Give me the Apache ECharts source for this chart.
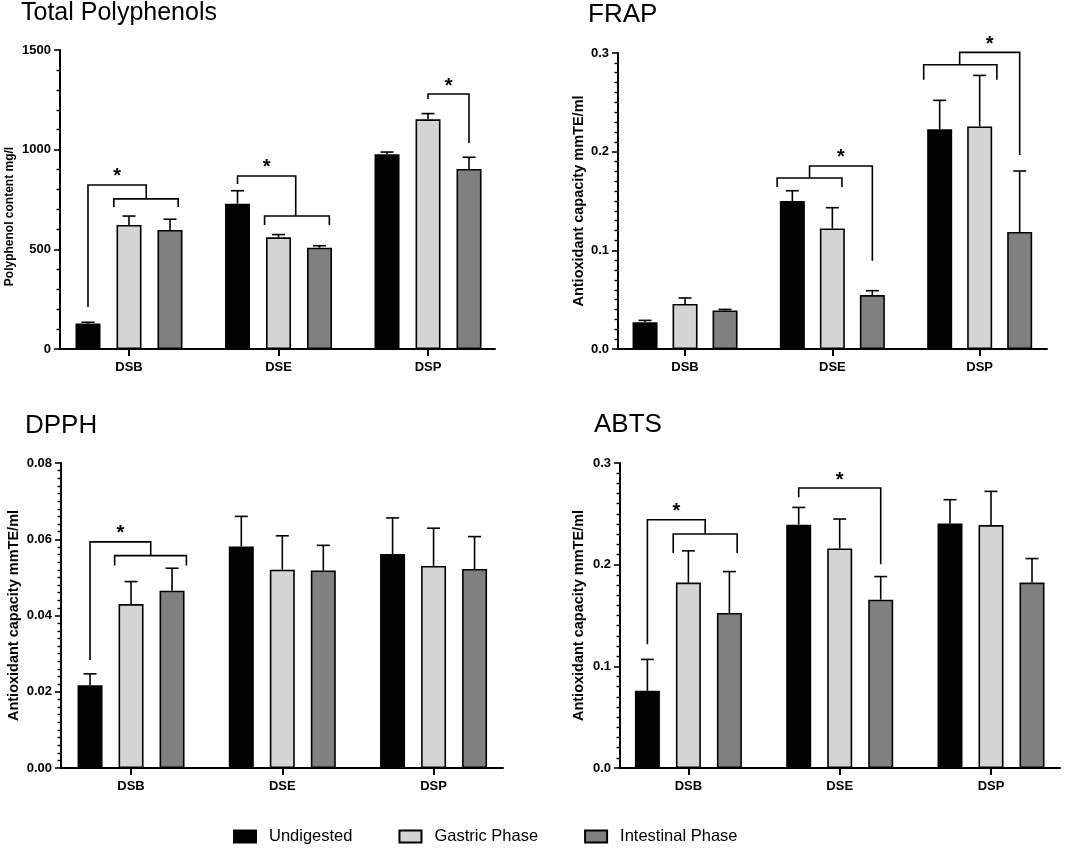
<!DOCTYPE html>
<html>
<head>
<meta charset="utf-8">
<script src="https://cdn.jsdelivr.net/npm/echarts@6/dist/echarts.min.js"></script>
<style>
  html, body { margin: 0; padding: 0; background: #fff; }
  #chart { width: 1084px; height: 850px; }
</style>
</head>
<body>
<div id="chart"></div>
<script>
    var FONT = '"Liberation Sans", Arial, Helvetica, sans-serif';
    var categories = ['DSB', 'DSE', 'DSP'];
    var phases = ['Undigested', 'Gastric Phase', 'Intestinal Phase'];
    var phaseColors = ['#000000', '#d4d4d4', '#808080'];

    // 总多酚 (mean / sd)
    var tpUndigested = [128, 729, 977];
    var tpGastric = [622, 560, 1152];
    var tpIntestinal = [597, 508, 903];
    var tpUndigestedErr = [6, 65, 11];
    var tpGastricErr = [45, 14, 29];
    var tpIntestinalErr = [54, 10, 59];

    // FRAP
    var frapUndigested = [0.027, 0.150, 0.2226];
    var frapGastric = [0.0456, 0.1222, 0.2256];
    var frapIntestinal = [0.0391, 0.0547, 0.1186];
    var frapUndigestedErr = [0.002, 0.0104, 0.0294];
    var frapGastricErr = [0.0061, 0.021, 0.0517];
    var frapIntestinalErr = [0.001, 0.0044, 0.0618];

    // DPPH
    var dpphUndigested = [0.0217, 0.0581, 0.0561];
    var dpphGastric = [0.0430, 0.0520, 0.0530];
    var dpphIntestinal = [0.0465, 0.0518, 0.0522];
    var dpphUndigestedErr = [0.0030, 0.0079, 0.0095];
    var dpphGastricErr = [0.0059, 0.0089, 0.0099];
    var dpphIntestinalErr = [0.0059, 0.0066, 0.0085];

    // ABTS
    var abtsUndigested = [0.0759, 0.2393, 0.2405];
    var abtsGastric = [0.1824, 0.2159, 0.2389];
    var abtsIntestinal = [0.1525, 0.1656, 0.1824];
    var abtsUndigestedErr = [0.0309, 0.017, 0.0234];
    var abtsGastricErr = [0.0312, 0.029, 0.0332];
    var abtsIntestinalErr = [0.0407, 0.0227, 0.0236];

    // 显著性括号: [类别, 起点柱, 终点柱, 顶部值, 左端值, 右端值, 星号]
    var tpBrackets = [
        [0, 0, 1.42, 823, 211, 753, 1],
        [0, 0.63, 2.2, 753, 712, 712, 0],
        [1, 0, 1.42, 868, 828, 667, 1],
        [1, 0.66, 2.24, 667, 622, 622, 0],
        [2, 1, 2, 1279, 1254, 1034, 1]
    ];
    var frapBrackets = [
        [1, -0.38, 1.24, 0.1733, 0.1642, 0.1642, 0],
        [1, 0.43, 2, 0.1855, 0.1733, 0.0895, 1],
        [2, -0.4, 1.43, 0.2881, 0.273, 0.273, 0],
        [2, 0.5, 2, 0.3006, 0.2881, 0.1966, 1]
    ];
    var dpphBrackets = [
        [0, 0, 1.48, 0.0593, 0.0283, 0.0557, 1],
        [0, 0.6, 2.35, 0.0557, 0.0531, 0.0531, 0]
    ];
    var abtsBrackets = [
        [0, 0, 1.41, 0.2442, 0.1216, 0.2301, 1],
        [0, 0.63, 2.19, 0.2301, 0.2114, 0.2114, 0],
        [1, 0, 2, 0.2754, 0.2662, 0.2005, 1]
    ];

    // y轴刻度
    var tpTicks = { max: 1500, interval: 500, minor: 5, digits: 0 };
    var frapTicks = { max: 0.3, interval: 0.1, minor: 10, digits: 1 };
    var dpphTicks = { max: 0.08, interval: 0.02, minor: 10, digits: 2 };
    var abtsTicks = { max: 0.3, interval: 0.1, minor: 10, digits: 1 };

    var BAR_W = 25;
    var CAP = 13;

    var panels = [
        { title: 'Total Polyphenols', titleSize: 25, titleLeft: 21, titleTop: 1,
          yName: 'Polyphenol content mg/l', yNameSize: 12, yNameGap: 44, yNamePad: [0, 34, 0, 0],
          grid: { left: 60, top: 50, width: 435, height: 299 }, xMin: -0.4615, xMax: 2.448, step: 41,
          ticks: tpTicks, means: [tpUndigested, tpGastric, tpIntestinal],
          errs: [tpUndigestedErr, tpGastricErr, tpIntestinalErr], brackets: tpBrackets },
        { title: 'FRAP', titleSize: 26, titleLeft: 588, titleTop: 2,
          yName: 'Antioxidant capacity mmTE/ml', yNameSize: 14.5, yNameGap: 32, yNamePad: 0,
          grid: { left: 618, top: 53, width: 429, height: 296 }, xMin: -0.455, xMax: 2.457, step: 40,
          ticks: frapTicks, means: [frapUndigested, frapGastric, frapIntestinal],
          errs: [frapUndigestedErr, frapGastricErr, frapIntestinalErr], brackets: frapBrackets },
        { title: 'DPPH', titleSize: 26, titleLeft: 25, titleTop: 413,
          yName: 'Antioxidant capacity mmTE/ml', yNameSize: 14.5, yNameGap: 40, yNamePad: 0,
          grid: { left: 61, top: 463, width: 442, height: 305 }, xMin: -0.463, xMax: 2.459, step: 41,
          ticks: dpphTicks, means: [dpphUndigested, dpphGastric, dpphIntestinal],
          errs: [dpphUndigestedErr, dpphGastricErr, dpphIntestinalErr], brackets: dpphBrackets },
        { title: 'ABTS', titleSize: 26, titleLeft: 594, titleTop: 412,
          yName: 'Antioxidant capacity mmTE/ml', yNameSize: 14.5, yNameGap: 34, yNamePad: 0,
          grid: { left: 620, top: 463, width: 440, height: 305 }, xMin: -0.452, xMax: 2.456, step: 41,
          ticks: abtsTicks, means: [abtsUndigested, abtsGastric, abtsIntestinal],
          errs: [abtsUndigestedErr, abtsGastricErr, abtsIntestinalErr], brackets: abtsBrackets }
    ];

    function pairs(arr) {
        return arr.map(function (v, i) { return [i, v]; });
    }

    function errRender(barIdx, step) {
        return function (params, api) {
            var cat = api.value(0), v = api.value(1), e = api.value(2);
            var base = api.coord([cat, v]);
            var top = api.coord([cat, v + e]);
            var x = base[0] + (barIdx - 1) * step;
            var st = { stroke: '#000', lineWidth: 1.6 };
            return {
                type: 'group',
                children: [
                    { type: 'line', shape: { x1: x, y1: base[1], x2: x, y2: top[1] }, style: st },
                    { type: 'line', shape: { x1: x - CAP / 2, y1: top[1], x2: x + CAP / 2, y2: top[1] }, style: st }
                ]
            };
        };
    }

    function bracketRender(step) {
        return function (params, api) {
            var cat = api.value(0);
            var cx = api.coord([cat, 0])[0];
            var x1 = cx + (api.value(1) - 1) * step;
            var x2 = cx + (api.value(2) - 1) * step;
            var yT = api.coord([cat, api.value(3)])[1];
            var yL = api.coord([cat, api.value(4)])[1];
            var yR = api.coord([cat, api.value(5)])[1];
            var children = [{
                type: 'polyline',
                shape: { points: [[x1, yL], [x1, yT], [x2, yT], [x2, yR]] },
                style: { stroke: '#000', lineWidth: 1.6, fill: null }
            }];
            if (api.value(6)) {
                children.push({
                    type: 'text',
                    x: (x1 + x2) / 2, y: yT - 8,
                    style: { text: '*', font: 'bold 20px ' + FONT, align: 'center', verticalAlign: 'middle', fill: '#000' }
                });
            }
            return { type: 'group', children: children };
        };
    }

    var option = {
        animation: false,
        backgroundColor: '#fff',
        textStyle: { fontFamily: FONT },
        title: [],
        grid: [],
        xAxis: [],
        yAxis: [],
        series: [],
        legend: {
            data: phases,
            left: 233,
            top: 828,
            padding: 0,
            itemWidth: 22,
            itemHeight: 12,
            itemGap: 46,
            icon: 'rect',
            itemStyle: { borderColor: '#000', borderWidth: 2 },
            textStyle: { fontSize: 16.5, color: '#000', fontFamily: FONT, padding: [0, 0, 0, 8] }
        }
    };

    panels.forEach(function (p, gi) {
        option.title.push({
            text: p.title, left: p.titleLeft, top: p.titleTop, padding: 0,
            textStyle: { fontSize: p.titleSize, fontWeight: 'normal', color: '#000', fontFamily: FONT }
        });
        option.grid.push(p.grid);
        option.xAxis.push({
            type: 'value', gridIndex: gi, min: p.xMin, max: p.xMax,
            splitLine: { show: false },
            axisLine: { onZero: false, lineStyle: { color: '#000', width: 2 } },
            axisTick: { customValues: [0, 1, 2], length: 7, lineStyle: { color: '#000', width: 2 } },
            axisLabel: {
                customValues: [0, 1, 2], margin: 12,
                color: '#000', fontWeight: 'bold', fontSize: 13, fontFamily: FONT,
                formatter: function (v) { return categories[Math.round(v)]; }
            }
        });
        option.yAxis.push({
            type: 'value', gridIndex: gi, min: 0, max: p.ticks.max, interval: p.ticks.interval,
            name: p.yName, nameLocation: 'middle', nameGap: p.yNameGap,
            nameTextStyle: { fontSize: p.yNameSize, fontWeight: 'bold', color: '#000', fontFamily: FONT, padding: p.yNamePad },
            splitLine: { show: false },
            axisLine: { show: true, onZero: false, lineStyle: { color: '#000', width: 2 } },
            axisTick: { show: true, length: 6, lineStyle: { color: '#000', width: 1.6 } },
            minorTick: { show: true, splitNumber: p.ticks.minor, length: 3.5, lineStyle: { color: '#000', width: 1.4 } },
            axisLabel: {
                margin: 9, color: '#000', fontWeight: 'bold', fontSize: 13, fontFamily: FONT,
                formatter: (function (d) { return function (v) { return v.toFixed(d); }; })(p.ticks.digits)
            }
        });
        var gap = ((p.step - BAR_W) / BAR_W * 100).toFixed(2) + '%';
        p.means.forEach(function (m, k) {
            option.series.push({
                name: phases[k], type: 'bar', xAxisIndex: gi, yAxisIndex: gi,
                barWidth: BAR_W, barGap: gap,
                itemStyle: { color: phaseColors[k], borderColor: '#000', borderWidth: 1.6 },
                data: pairs(m)
            });
        });
        p.errs.forEach(function (e, k) {
            option.series.push({
                type: 'custom', xAxisIndex: gi, yAxisIndex: gi, z: 3,
                renderItem: errRender(k, p.step),
                encode: { x: 0, y: 1 },
                data: p.means[k].map(function (v, i) { return [i, v, e[i]]; })
            });
        });
        option.series.push({
            type: 'custom', xAxisIndex: gi, yAxisIndex: gi, z: 4, clip: false,
            renderItem: bracketRender(p.step),
            encode: { x: 0, y: 3 },
            data: p.brackets
        });
    });

    var chart = echarts.init(document.getElementById('chart'));
    chart.setOption(option);
</script>
</body>
</html>
